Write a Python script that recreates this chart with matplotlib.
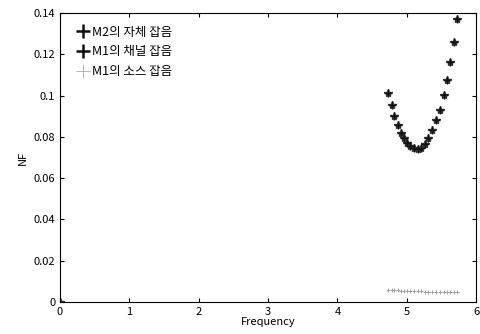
import matplotlib.pyplot as plt

plt.rcParams['font.family'] = ['Noto Sans CJK KR', 'DejaVu Sans']

# NF vs frequency
freq = [0, 4.727, 4.784, 4.822, 4.875, 4.923, 4.966, 5.005, 5.053, 5.106, 5.159,
        5.211, 5.260, 5.308, 5.370, 5.428, 5.477, 5.534, 5.582, 5.630, 5.687, 5.726]
nf_m2 = [0, 0.1011, 0.0953, 0.0903, 0.0856, 0.0820, 0.0793, 0.0772, 0.0756, 0.0745, 0.0740,
         0.0745, 0.0765, 0.0795, 0.0832, 0.0881, 0.0932, 0.1001, 0.1075, 0.1163, 0.1260, 0.1371]
nf_m1_ch = nf_m2
nf_m1_src = [0, 0.0058, 0.0057, 0.0056, 0.0056, 0.0055, 0.0054, 0.0054, 0.0053, 0.0052, 0.0051,
             0.0051, 0.0050, 0.0050, 0.0049, 0.0049, 0.0048, 0.0048, 0.0047, 0.0047, 0.0046, 0.0046]

labels = ['M2의 자체 잡음', 'M1의 채널 잡음', 'M1의 소스 잡음']

fig = plt.figure(figsize=(4.8, 3.34), dpi=100)
ax = fig.add_axes([0.125, 0.096, 0.867, 0.865])

ax.plot(freq, nf_m2, linestyle='none', marker='*', markersize=6, color='#333333')
ax.plot(freq, nf_m1_ch, linestyle='none', marker='+', markersize=6, color='#111111', mew=1.0)
ax.plot(freq, nf_m1_src, linestyle='none', marker='+', markersize=3, color='#999999', mew=0.6)

# legend handles
h1, = ax.plot([], [], linestyle='none', marker='+', markersize=10, mew=1.8, color='#111111')
h2, = ax.plot([], [], linestyle='none', marker='+', markersize=10, mew=1.8, color='#111111')
h3, = ax.plot([], [], linestyle='none', marker='+', markersize=10, mew=0.6, color='#aaaaaa')
ax.legend([h1, h2, h3], labels, loc='upper left', frameon=False, fontsize=9,
          handletextpad=0.0, handlelength=1.6, borderaxespad=0.6, labelspacing=0.55)

ax.set_xlim(0, 6)
ax.set_ylim(0, 0.14)
ax.set_xticks([0, 1, 2, 3, 4, 5, 6])
ax.set_yticks([0, 0.02, 0.04, 0.06, 0.08, 0.1, 0.12, 0.14])
ax.set_yticklabels(['0', '0.02', '0.04', '0.06', '0.08', '0.1', '0.12', '0.14'])
ax.tick_params(direction='in', top=True, right=True, labelsize=8, length=3)
ax.set_xlabel('Frequency', fontsize=8, labelpad=0)
ax.set_ylabel('NF', fontsize=8)

fig.savefig('out.png', dpi=100)
